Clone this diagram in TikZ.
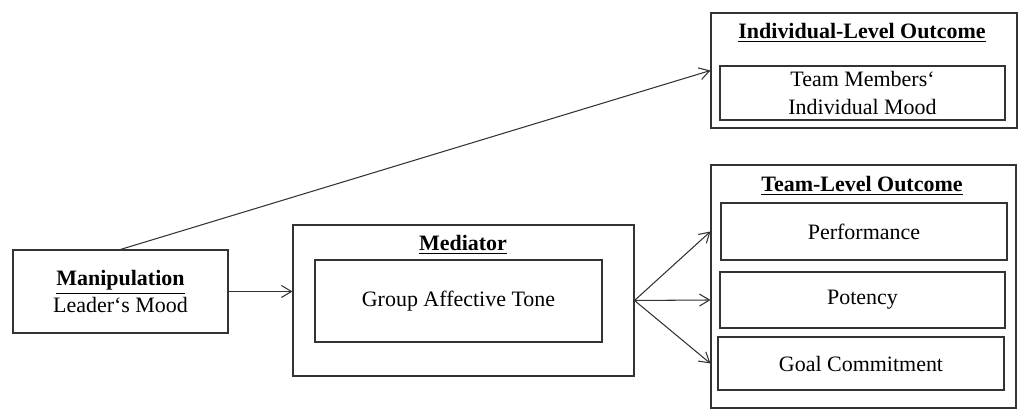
\documentclass[tikz,border=0pt]{standalone}
\usepackage{fontspec}
\setmainfont{Liberation Serif}
\usepackage{tikz}
\usetikzlibrary{arrows,arrows.meta,positioning,calc}
\tikzset{
  every box/.style={
    draw=black!80,
    line width=0.6pt,
    inner sep=0pt,
    align=center,
    font=\fontsize{12.5}{15}\selectfont
  },
  outer box/.style={
    every box
  },
  inner box/.style={
    every box
  },
  box title/.style={
    inner sep=0pt,
    font=\fontsize{12.5}{15}\selectfont\bfseries
  }
}

\begin{document}
\begin{tikzpicture}[>={Straight Barb[length=2mm,width=2.4mm]}, line width=0.6pt, draw=black!80]
   \useasboundingbox (0,0) rectangle (20.48,8.38);

   \node[outer box, minimum width=4.3cm, minimum height=1.66cm] (manip) at (2.41,2.55)
        {\underline{\textbf{Manipulation}}\\Leader‘s Mood};

   \node[outer box, minimum width=6.82cm, minimum height=3.02cm] (med) at (9.27,2.37) {};
   \node[box title] (medtitle) at (9.26,3.48) {\underline{Mediator}};
   \node[inner box, minimum width=5.74cm, minimum height=1.64cm] (tone) at (9.17,2.36) {Group Affective Tone};

   \node[outer box, minimum width=6.12cm, minimum height=2.30cm] (ind) at (17.28,6.97) {};
   \node[box title] (indtitle) at (17.24,7.72) {\underline{Individual-Level Outcome}};
   \node[inner box, minimum width=5.70cm, minimum height=1.08cm,
         font=\fontsize{12.5}{16.4}\selectfont] (mood) at (17.25,6.52) {Team Members‘\\Individual Mood};

   \node[outer box, minimum width=6.1cm, minimum height=4.86cm] (team) at (17.27,2.65) {};
   \node[box title] (teamtitle) at (17.24,4.66) {\underline{Team-Level Outcome}};
   \node[inner box, minimum width=5.72cm, minimum height=1.14cm] (perf) at (17.28,3.75) {Performance};
   \node[inner box, minimum width=5.70cm, minimum height=1.12cm] (pot) at (17.25,2.38) {Potency};
   \node[inner box, minimum width=5.72cm, minimum height=1.06cm] (goal) at (17.22,1.11) {Goal Commitment};

\path[->] (manip.east) edge (med.west |- manip.east)
          (manip.north) edge (ind.west)
          (med.east) edge (team.west |- perf)
                     edge (team.west |- pot)
                     edge (team.west |- goal)
;
\end{tikzpicture}
\end{document}
